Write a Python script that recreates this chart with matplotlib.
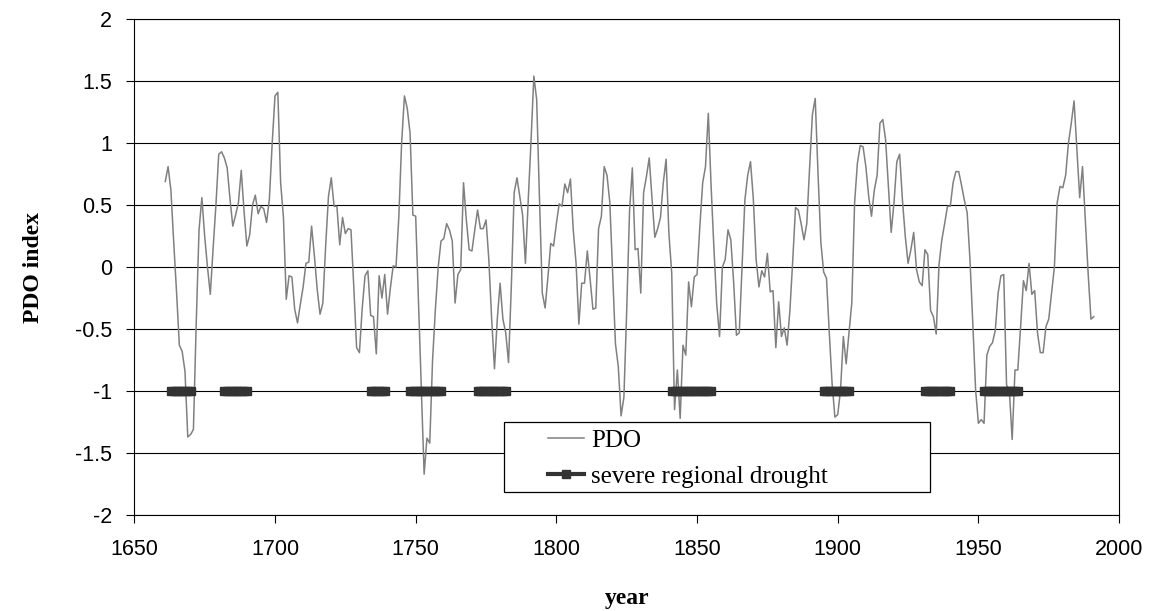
import numpy as np
import matplotlib.pyplot as plt
from matplotlib.lines import Line2D
from matplotlib.patches import Rectangle

# PDO index, one value per year from 1661
pdo = [
    0.69, 0.81, 0.62, 0.20, -0.20, -0.63, -0.68, -0.84, -1.37, -1.35,
    -1.31, -0.45, 0.30, 0.56, 0.25, 0.00, -0.22, 0.15, 0.50, 0.91,
    0.93, 0.88, 0.80, 0.55, 0.33, 0.42, 0.52, 0.78, 0.45, 0.17,
    0.26, 0.50, 0.58, 0.43, 0.49, 0.47, 0.36, 0.55, 1.00, 1.38,
    # 1701
    1.41, 0.68, 0.40, -0.26, -0.07, -0.08, -0.34, -0.45, -0.30, -0.16,
    0.03, 0.04, 0.33, 0.09, -0.18, -0.38, -0.29, 0.17, 0.57, 0.72,
    0.49, 0.49, 0.18, 0.40, 0.27, 0.31, 0.30, -0.16, -0.65, -0.69,
    -0.33, -0.07, -0.03, -0.39, -0.40, -0.70, -0.07, -0.25, -0.06, -0.38,
    -0.17, 0.01,
    # 1743
    0.00, 0.40, 1.00, 1.38, 1.28, 1.08, 0.42, 0.41,
    -0.28, -0.98, -1.67, -1.38, -1.42, -0.75, -0.34, 0.00, 0.21, 0.23,
    0.35, 0.30, 0.21, -0.29, -0.06, -0.02, 0.68, 0.38, 0.14, 0.13,
    0.30, 0.46, 0.31, 0.31, 0.38, 0.06, -0.42, -0.82, -0.42, -0.13,
    -0.42, -0.53, -0.77, -0.15,
    # 1785
    0.60, 0.72, 0.57, 0.42, 0.03, 0.54, 1.02, 1.54, 1.35, 0.55,
    -0.21, -0.33, -0.08, 0.19, 0.17, 0.35, 0.51, 0.49, 0.67, 0.60,
    0.71, 0.30, 0.03, -0.46, -0.13, -0.13, 0.13, -0.10, -0.34, -0.33,
    0.31, 0.41, 0.81, 0.74, 0.52, -0.05, -0.62, -0.80, -1.20, -1.05,
    -0.35, 0.45, 0.80,
    # 1828
    0.14, 0.15, -0.21, 0.60, 0.73, 0.88, 0.55, 0.24, 0.31, 0.40,
    0.68, 0.87, 0.27, -0.05, -1.15, -0.83, -1.22, -0.63, -0.71, -0.12,
    -0.32, -0.08, -0.06, 0.33, 0.68, 0.81, 1.24, 0.65, 0.15, -0.30,
    -0.56, 0.00, 0.06, 0.30, 0.22, -0.12, -0.55, -0.53, 0.00, 0.54,
    0.74, 0.85, 0.55,
    # 1871
    0.06, -0.16, -0.03, -0.08, 0.11, -0.20, -0.19, -0.65, -0.28, -0.56,
    -0.49, -0.63, -0.35, 0.05, 0.48, 0.46, 0.35, 0.22, 0.35, 0.80,
    1.23, 1.36, 0.75, 0.20, -0.04, -0.09, -0.53, -0.94, -1.21, -1.19,
    -0.99, -0.56, -0.78, -0.53, -0.29, 0.52, 0.84, 0.98, 0.97, 0.81,
    0.57, 0.41, 0.62,
    # 1914
    0.74, 1.16, 1.19, 1.03, 0.65, 0.28, 0.52, 0.85, 0.91, 0.54,
    0.25, 0.03, 0.14, 0.28, -0.02, -0.12, -0.15, 0.14, 0.10, -0.35,
    -0.40, -0.54, 0.02, 0.22, 0.35, 0.49, 0.49, 0.68, 0.77, 0.77,
    0.66, 0.54, 0.44, 0.06, -0.45, -0.99, -1.26, -1.23, -1.26, -0.71,
    -0.64, -0.61, -0.51,
    # 1957
    -0.21, -0.07, -0.06, -0.95, -1.00, -1.39, -0.83, -0.83, -0.48, -0.11,
    -0.19, 0.03, -0.22, -0.19, -0.53, -0.69, -0.69, -0.48, -0.42, -0.21,
    0.00, 0.52, 0.65, 0.64, 0.74, 1.00, 1.16, 1.34, 0.95, 0.56,
    0.81, 0.38, -0.05, -0.42, -0.40,
]
years = np.arange(1661, 1661 + len(pdo))

# severe regional drought periods (first year, last year)
drought_periods = [(1663, 1670), (1682, 1690), (1734, 1739), (1748, 1759),
                   (1772, 1782), (1841, 1855), (1895, 1904), (1931, 1940),
                   (1952, 1964)]
drought_level = -1

drought = np.full(len(years), np.nan)
for a, b in drought_periods:
    drought[(years >= a) & (years <= b)] = drought_level

yticks = [-2, -1.5, -1, -0.5, 0, 0.5, 1, 1.5, 2]
xticks = [1650, 1700, 1750, 1800, 1850, 1900, 1950, 2000]

fig = plt.figure(figsize=(11.58, 6.11), dpi=100)
ax = fig.add_axes([0.116, 0.157, 0.8504, 0.8118])

ax.plot(years, pdo, color='#808080', lw=1.1, zorder=3)
ax.plot(years, drought, color='#333333', lw=3, marker='s', ms=5.5,
        zorder=4)

ax.set_xlim(1650, 2000)
ax.set_ylim(-2, 2)
ax.set_xticks(xticks)
ax.set_yticks(yticks)
ax.set_xticklabels([str(x) for x in xticks], family='Liberation Sans')
ax.set_yticklabels(['%g' % y for y in yticks], family='Liberation Sans')
ax.tick_params(direction='out', length=6, width=0.8, labelsize=15.5,
               colors='black')
ax.tick_params(axis='x', pad=11.5)
ax.tick_params(axis='y', pad=10)
ax.yaxis.grid(True, color='black', lw=0.8)
ax.set_axisbelow(True)
for s in ax.spines.values():
    s.set_linewidth(0.8)
    s.set_color('black')

ax.set_xlabel('year', family='Liberation Serif', weight='bold',
              fontsize=17, labelpad=20)
ax.set_ylabel('PDO index', family='Liberation Serif', weight='bold',
              fontsize=17, labelpad=22)

# legend box
ax.add_patch(Rectangle((0.3754, 0.0464), 0.4327, 0.1411,
                       transform=ax.transAxes, facecolor='white',
                       edgecolor='black', lw=0.9, zorder=5))
handles = [Line2D([], [], color='#808080', lw=1.1),
           Line2D([], [], color='#333333', lw=3, marker='s', ms=5.5)]
leg = ax.legend(handles, ['PDO', 'severe regional drought'],
                loc='upper left', bbox_to_anchor=(0.407, 0.198),
                frameon=False, borderpad=0, handlelength=1.45,
                handletextpad=0.28, labelspacing=0.55,
                prop={'family': 'Liberation Serif', 'size': 18})
leg.set_zorder(6)

fig.savefig('out.png', dpi=100)
